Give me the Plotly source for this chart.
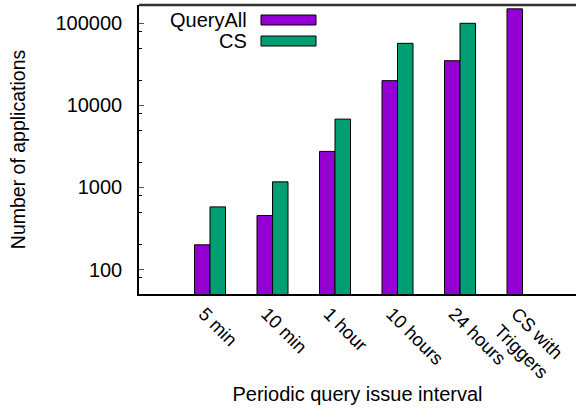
import math
import plotly.graph_objects as go

# Periodic query issue interval categories
categories = ["5 min", "10 min", "1 hour", "10 hours", "24 hours", "CS with<br>Triggers"]

# Number of applications per scheme
query_all = [200, 455, 2750, 20000, 35000, 150000]
cs = [580, 1170, 6800, 57000, 100000, None]

series_names = ["QueryAll", "CS"]
series_colors = ["#9400D3", "#009E73"]

y_major = [100, 1000, 10000, 100000]
y_major_text = ["100", "1000", "10000", "100000"]
y_minor = [m * 10 ** e for e in range(1, 6) for m in (2, 5, 8)]

FONT = "Liberation Sans, Arial, Helvetica, sans-serif"
y_range = [1.702, 5.223]

fig = go.Figure()
for name, vals, color in zip(series_names, [query_all, cs], series_colors):
    fig.add_trace(go.Bar(
        x=categories, y=vals, name=name,
        marker=dict(color=color, line=dict(color="black", width=1)),
        showlegend=False,
    ))

tick_font = dict(family=FONT, size=20, color="black")
cat_font = dict(family=FONT, size=18.5, color="black")

fig.update_layout(
    width=576, height=408,
    margin=dict(l=139, r=0, t=5, b=114),
    paper_bgcolor="white", plot_bgcolor="white",
    barmode="group", bargap=0.504, bargroupgap=0,
    font=tick_font,
    xaxis=dict(
        type="category", categoryorder="array", categoryarray=categories,
        range=[-1.136, 5.856],
        showline=True, linecolor="black", linewidth=1.5,
        ticks="", tickangle=45, tickfont=cat_font, ticklabelshift=-6,
        showgrid=False, zeroline=False,
        title=dict(text="Periodic query issue interval",
                   font=dict(family=FONT, size=20, color="black"), standoff=5),
    ),
    yaxis=dict(
        type="log", range=y_range,
        showline=True, linecolor="black", linewidth=1.5,
        ticks="inside", ticklen=5, tickwidth=1, tickcolor="#555",
        tickmode="array", tickvals=y_major, ticktext=y_major_text,
        tickfont=tick_font, ticklabelstandoff=11,
        minor=dict(ticks="inside", ticklen=3, tickwidth=1, tickcolor="black",
                   tickmode="array", tickvals=y_minor, showgrid=False),
        showgrid=False, zeroline=False,
        title=dict(text="Number of applications",
                   font=dict(family=FONT, size=19.5, color="black"), standoff=25),
    ),
)

plot_h = 408 - 5 - 114
plot_w = 576 - 139

# inward ticks along the right side of the frame (log axis shapes take log10 values)
for vals, length, color in [(y_major, 5, "#555"), (y_minor, 3, "black")]:
    for v in vals:
        lv = math.log10(v)
        if y_range[0] <= lv <= y_range[1]:
            fig.add_shape(type="line", xref="paper", yref="y",
                          x0=1 - length / plot_w, x1=1, y0=lv, y1=lv,
                          line=dict(color=color, width=1))

# top border of the plot frame
fig.add_shape(type="line", xref="paper", yref="paper", x0=0, x1=1, y0=1, y1=1,
              line=dict(color="#333", width=2.5))

# key: right-aligned labels with swatches to their right
key_rows = [(15, 25), (36, 46)]
for (top_px, bot_px), name, color in zip(key_rows, series_names, series_colors):
    y0 = 1 - (bot_px - 5) / plot_h
    y1 = 1 - (top_px - 5) / plot_h
    fig.add_shape(type="rect", xref="paper", yref="paper",
                  x0=(261 - 139) / plot_w, x1=(316 - 139) / plot_w, y0=y0, y1=y1,
                  fillcolor=color, line=dict(color="black", width=1))
    fig.add_annotation(xref="paper", yref="paper", x=(249 - 139) / plot_w, y=(y0 + y1) / 2,
                       text=name, showarrow=False, xanchor="right", yanchor="middle",
                       font=dict(family=FONT, size=20, color="black"))

fig.write_html("out.html")
